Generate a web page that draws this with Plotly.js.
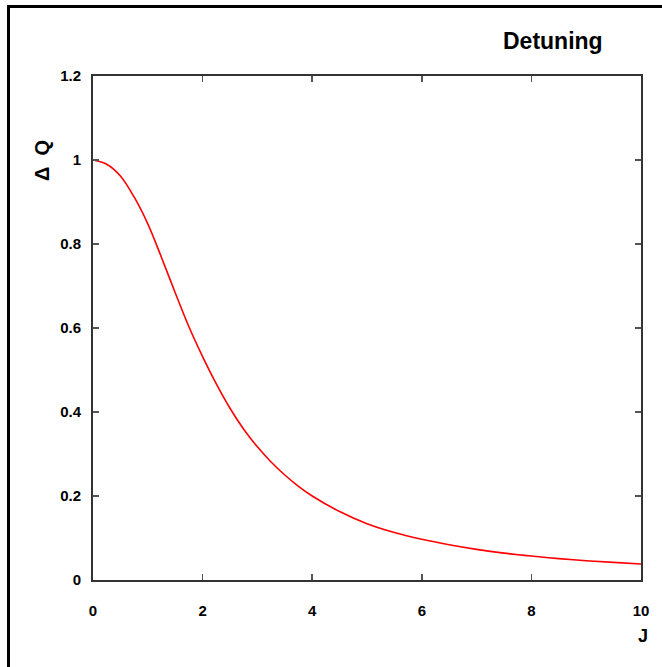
<!DOCTYPE html>
<html>
<head>
<meta charset="utf-8">
<script src="https://cdn.plot.ly/plotly-3.0.1.min.js"></script>
<style>
  html, body { margin: 0; padding: 0; background: #fff; }
  #chart { width: 662px; height: 667px; }
</style>
</head>
<body>
<div id="chart"></div>
<script>
// Data
const J = [0, 0.25, 0.5, 0.75, 1, 1.25, 1.5, 1.75, 2, 2.25, 2.5, 2.75, 3, 3.25, 3.5, 3.75, 4, 4.5, 5, 5.5, 6, 6.5, 7, 7.5, 8, 8.5, 9, 9.5, 10];
const dQ = [1.0, 0.99, 0.962, 0.912, 0.848, 0.768, 0.684, 0.603, 0.532, 0.467, 0.409, 0.359, 0.317, 0.281, 0.25, 0.223, 0.2, 0.163, 0.134, 0.113, 0.097, 0.084, 0.073, 0.064, 0.057, 0.051, 0.046, 0.042, 0.038];
const xTicks = [0, 2, 4, 6, 8, 10];
const yTicks = [0, 0.2, 0.4, 0.6, 0.8, 1, 1.2];
const yTickText = ['0', '0.2', '0.4', '0.6', '0.8', '1', '1.2'];
const titleText = 'Detuning';
const xTitle = 'J';
const yTitle = '\u0394  Q';

const FONT = '"Liberation Sans", Arial, Helvetica, sans-serif';

const trace = {
  x: J, y: dQ, type: 'scatter', mode: 'lines',
  line: { color: '#ff0000', width: 1.6, shape: 'spline', smoothing: 1 },
  hoverinfo: 'skip'
};

const axisCommon = {
  showgrid: false, zeroline: false,
  showline: true, linecolor: '#333', linewidth: 2,
  mirror: 'ticks', ticks: 'inside', ticklen: 6, tickwidth: 1.5, tickcolor: '#555',
  tickfont: { family: FONT, size: 15, color: '#000', weight: 'bold' }
};

const layout = {
  width: 662, height: 667,
  margin: { l: 93, r: 21, t: 76, b: 87 },
  paper_bgcolor: '#fff', plot_bgcolor: '#fff',
  showlegend: false,
  xaxis: Object.assign({}, axisCommon, {
    range: [0, 10], tickvals: xTicks, ticktext: xTicks.map(String),
    ticklabelstandoff: 16
  }),
  yaxis: Object.assign({}, axisCommon, {
    range: [0, 1.2], tickvals: yTicks, ticktext: yTickText,
    ticklabelstandoff: 7
  }),
  annotations: [
    { text: titleText, xref: 'paper', yref: 'paper', x: 0.839, y: 1.0694,
      xanchor: 'center', yanchor: 'middle', showarrow: false,
      font: { family: FONT, size: 23, color: '#000', weight: 'bold' } },
    { text: xTitle, xref: 'paper', yref: 'paper', x: 1.0164, y: -0.111,
      xanchor: 'right', yanchor: 'middle', showarrow: false,
      font: { family: FONT, size: 18, color: '#000', weight: 'bold' } },
    { text: yTitle, xref: 'paper', yref: 'paper', x: -0.0931, y: 0.8333,
      xanchor: 'center', yanchor: 'middle', showarrow: false, textangle: -90,
      font: { family: FONT, size: 20, color: '#000', weight: 'bold' } }
  ],
  shapes: [
    { type: 'path', xref: 'paper', yref: 'paper', layer: 'above',
      path: 'M -0.1542 -0.25 L -0.1542 1.1379 L 1.1 1.1379',
      line: { color: '#000', width: 3 } }
  ]
};

Plotly.newPlot('chart', [trace], layout, { displayModeBar: false, staticPlot: true });
</script>
</body>
</html>
